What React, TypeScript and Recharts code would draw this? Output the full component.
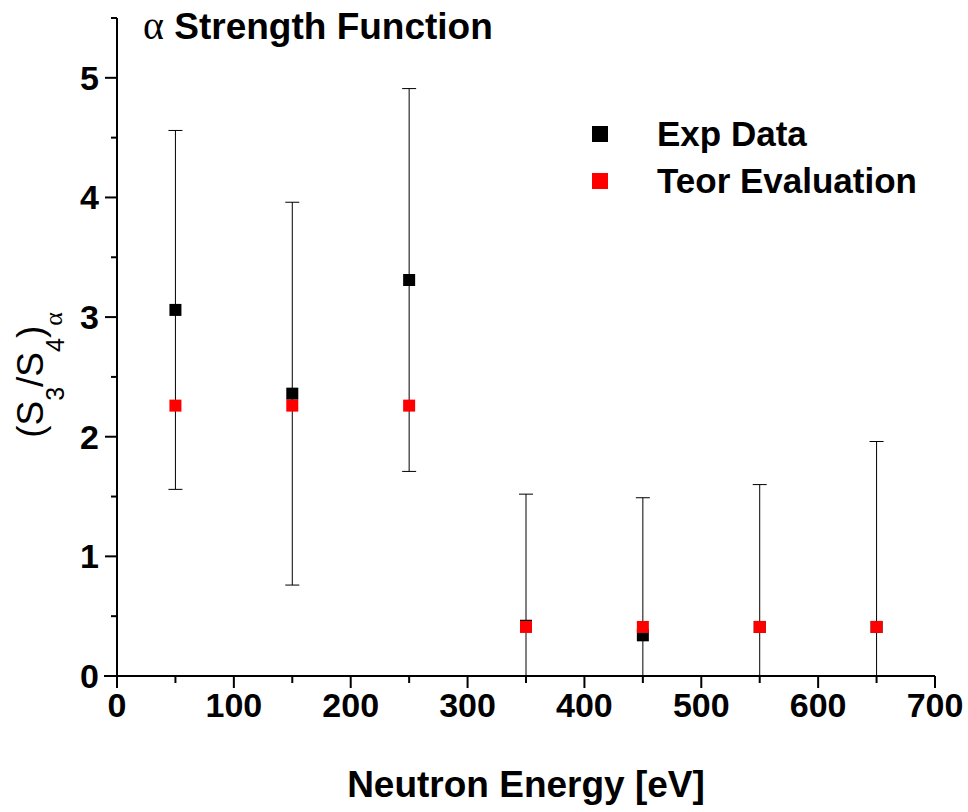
import { ErrorBar, Legend, Scatter, ScatterChart, XAxis, YAxis } from "recharts";

// neutron energy bins (eV)
const energies = [50, 150, 250, 350, 450, 550, 650];
const expValues = [3.06, 2.36, 3.31, 0.42, 0.34, 0.41, 0.41];
const expErrors = [1.5, 1.6, 1.6, 1.1, 1.15, 1.19, 1.55];
const teorValues = [2.26, 2.26, 2.26, 0.41, 0.41, 0.41, 0.41];

const xTicks = [0, 50, 100, 150, 200, 250, 300, 350, 400, 450, 500, 550, 600, 650, 700];
const yTicks = [0, 0.5, 1, 1.5, 2, 2.5, 3, 3.5, 4, 4.5, 5, 5.5];

const expData = energies.map((x, i) => ({ x, y: expValues[i], err: expErrors[i] }));
const teorData = energies.map((x, i) => ({ x, y: teorValues[i] }));

const FONT = '"Liberation Sans", Arial, sans-serif';
const SERIF = '"Liberation Serif", "Times New Roman", serif';

// plot area, used only to clip error bars that run below zero
const PLOT = { left: 117, top: 18, width: 818, height: 658 };

function XTick({ x, y, payload }: any) {
  const v = payload.value;
  const major = v % 100 === 0;
  return (
    <g>
      {v === 0 && <line x1={x - 13} y1={y} x2={x} y2={y} stroke="#000" strokeWidth={2} />}
      <line x1={x} y1={y} x2={x} y2={y + (major ? 12 : 7)} stroke="#000" strokeWidth={2} />
      {major && (
        <text x={x} y={y + 41} textAnchor="middle" fontFamily={FONT} fontWeight="bold" fontSize={34} fill="#000">
          {v}
        </text>
      )}
    </g>
  );
}

function YTick({ x, y, payload }: any) {
  const v = payload.value;
  const major = Number.isInteger(v);
  return (
    <g>
      <line x1={x - (major ? 12 : 6)} y1={y} x2={x} y2={y} stroke="#000" strokeWidth={2} />
      {major && (
        <text x={x - 18} y={y + 12} textAnchor="end" fontFamily={FONT} fontWeight="bold" fontSize={34} fill="#000">
          {v}
        </text>
      )}
    </g>
  );
}

function XLabel({ viewBox }: any) {
  return (
    <text
      x={viewBox.x + viewBox.width / 2}
      y={viewBox.y + 121}
      textAnchor="middle"
      fontFamily={FONT}
      fontWeight="bold"
      fontSize={37}
      fill="#000"
    >
      Neutron Energy [eV]
    </text>
  );
}

function YLabel({ viewBox }: any) {
  const cy = viewBox.y + viewBox.height / 2 + 28;
  return (
    <text
      transform={`translate(43, ${cy}) rotate(-90)`}
      textAnchor="middle"
      fontFamily={FONT}
      fontSize={37}
      fill="#000"
    >
      (S<tspan fontSize={25} dy={21}>3</tspan>
      <tspan dy={-21}>/S</tspan>
      <tspan fontSize={25} dy={21}>4</tspan>
      <tspan dy={-21}>)</tspan>
      <tspan fontFamily={SERIF} fontSize={26} dy={19}>α</tspan>
    </text>
  );
}

function LegendBox({ payload }: any) {
  return (
    <svg width={340} height={110}>
      {(payload || []).map((p: any, i: number) => (
        <g key={p.value}>
          <rect x={0} y={26 + i * 47} width={16} height={16} fill={p.color} />
          <text x={65} y={46 + i * 47} fontFamily={FONT} fontWeight="bold" fontSize={35} fill="#000">
            {p.value}
          </text>
        </g>
      ))}
    </svg>
  );
}

const square = (color: string) => (props: any) =>
  <rect x={props.cx - 6} y={props.cy - 6} width={12} height={12} fill={color} />;

export default function App() {
  return (
    <div style={{ position: "absolute", left: 0, top: 0, width: 968, height: 812, background: "#fff" }}>
      <svg width={0} height={0} style={{ position: "absolute" }}>
        <defs>
          <clipPath id="plotClip">
            <rect x={PLOT.left} y={PLOT.top} width={PLOT.width} height={PLOT.height} />
          </clipPath>
        </defs>
      </svg>
      <ScatterChart width={968} height={812} margin={{ top: 18, right: 33, left: 0, bottom: 0 }}>
        <XAxis
          type="number"
          dataKey="x"
          domain={[0, 700]}
          ticks={xTicks}
          interval={0}
          height={136}
          tickSize={0}
          tickMargin={0}
          tickLine={false}
          axisLine={{ stroke: "#000", strokeWidth: 2 }}
          tick={<XTick />}
          label={{ content: <XLabel /> }}
        />
        <YAxis
          type="number"
          dataKey="y"
          domain={[0, 5.5]}
          allowDataOverflow
          ticks={yTicks}
          interval={0}
          width={117}
          tickSize={0}
          tickMargin={0}
          tickLine={false}
          axisLine={{ stroke: "#000", strokeWidth: 2 }}
          tick={<YTick />}
          label={{ content: <YLabel /> }}
        />
        <Legend
          layout="vertical"
          align="center"
          verticalAlign="middle"
          wrapperStyle={{ position: "absolute", left: 592, top: 100, width: 340, height: 110 }}
          content={<LegendBox />}
        />
        <Scatter name="Exp Data" data={expData} fill="#000" shape={square("#000")} isAnimationActive={false}>
          <ErrorBar
            dataKey="err"
            direction="y"
            width={7}
            stroke="#000"
            strokeWidth={1}
            clipPath="url(#plotClip)"
            isAnimationActive={false}
          />
        </Scatter>
        <Scatter name="Teor Evaluation" data={teorData} fill="#ff0000" shape={square("#ff0000")} isAnimationActive={false} />
      </ScatterChart>
      <svg width={968} height={812} style={{ position: "absolute", left: 0, top: 0, pointerEvents: "none" }}>
        <text x={143} y={39} fontFamily={FONT} fontWeight="bold" fontSize={37} fill="#000">
          <tspan fontFamily={SERIF} fontWeight="normal" fontSize={40}>α</tspan> Strength Function
        </text>
      </svg>
    </div>
  );
}
